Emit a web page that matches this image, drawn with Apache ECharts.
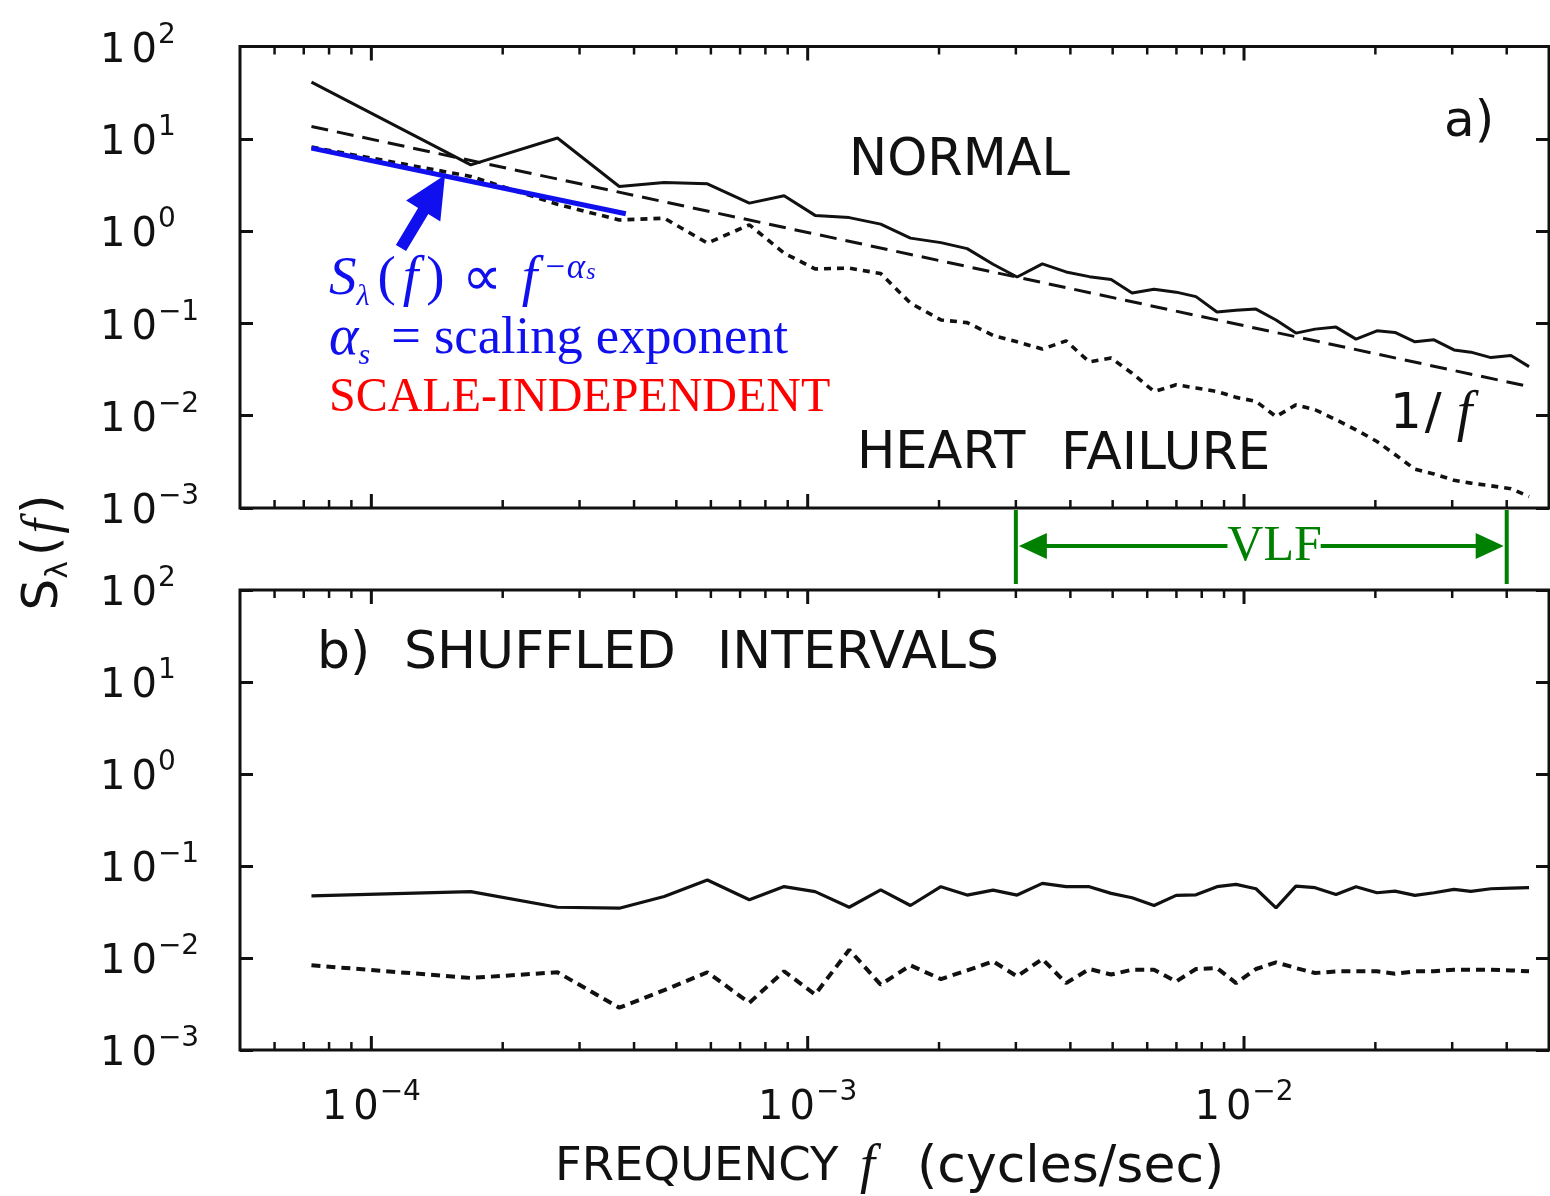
<!DOCTYPE html>
<html><head><meta charset="utf-8">
<script src="https://cdn.jsdelivr.net/npm/echarts@6/dist/echarts.min.js"></script>
<style>html,body{margin:0;padding:0;background:#fff}#c{width:1550px;height:1196px}</style>
</head><body><div id="c"></div>
<script>
// ---------------- data ----------------
const freq = [7.29e-5, 1.69e-4, 2.67e-4, 3.70e-4, 4.69e-4, 5.89e-4, 7.35e-4, 8.83e-4, 1.04e-3, 1.245e-3,
  1.47e-3, 1.72e-3, 2.02e-3, 2.32e-3, 2.66e-3, 3.02e-3, 3.45e-3, 3.91e-3, 4.42e-3, 4.96e-3,
  5.54e-3, 6.22e-3, 6.99e-3, 7.76e-3, 8.67e-3, 9.59e-3, 1.065e-2, 1.184e-2, 1.315e-2, 1.455e-2,
  1.625e-2, 1.806e-2, 2.017e-2, 2.218e-2, 2.465e-2, 2.725e-2, 3.028e-2, 3.311e-2, 3.68e-2, 4.09e-2, 4.50e-2];
const normalA = [41.1, 5.22, 10.2, 3.04, 3.37, 3.25, 2.01, 2.41, 1.48, 1.40,
  1.19, 0.839, 0.750, 0.646, 0.437, 0.318, 0.441, 0.361, 0.321, 0.299,
  0.213, 0.235, 0.218, 0.195, 0.133, 0.139, 0.143, 0.109, 0.0785, 0.0867,
  0.0912, 0.0676, 0.0832, 0.0798, 0.0632, 0.0664, 0.0516, 0.0488, 0.0426, 0.0448, 0.0340];
const heartFailureA = [8.13, 3.91, 1.95, 1.32, 1.38, 0.741, 1.17, 0.577, 0.389, 0.397,
  0.347, 0.166, 0.109, 0.102, 0.0741, 0.0631, 0.0527, 0.0646, 0.0382, 0.0421,
  0.0288, 0.0183, 0.0216, 0.0200, 0.0183, 0.0158, 0.0143, 0.00979, 0.0131, 0.0116,
  0.00904, 0.00703, 0.00526, 0.00380, 0.00263, 0.00234, 0.00200, 0.00186, 0.00174, 0.00162, 0.00133];
const normalB = [0.0473, 0.0527, 0.0356, 0.0348, 0.0466, 0.0705, 0.0429, 0.0597, 0.0527, 0.0356,
  0.0550, 0.0372, 0.0596, 0.0483, 0.0547, 0.0483, 0.0647, 0.0596, 0.0596, 0.0504,
  0.0452, 0.0372, 0.0479, 0.0486, 0.0596, 0.0631, 0.0566, 0.0351, 0.0605, 0.0581,
  0.0491, 0.0596, 0.0512, 0.0533, 0.0479, 0.0512, 0.0557, 0.0530, 0.0566, 0.0575, 0.0581];
const heartFailureB = [0.00834, 0.00607, 0.00700, 0.00288, 0.00447, 0.00700, 0.00326, 0.00718, 0.00401, 0.0123,
  0.00514, 0.00832, 0.00590, 0.00733, 0.00920, 0.00631, 0.00975, 0.00533, 0.00759, 0.00661,
  0.00746, 0.00746, 0.00556, 0.00759, 0.00778, 0.00533, 0.00759, 0.00897, 0.00778, 0.00686,
  0.00716, 0.00716, 0.00716, 0.00675, 0.00716, 0.00716, 0.00746, 0.00746, 0.00746, 0.00733, 0.00716];
const oneOverFFreq = [7.29e-5, 4.50e-2];
const oneOverFVal = [13.6, 0.0207];
const fitFreq = [7.29e-5, 3.83e-4];
const fitVal = [7.93, 1.54];
const xMajorTicks = [1e-4, 1e-3, 1e-2];
const xMinorTicks = [6e-5, 7e-5, 8e-5, 9e-5, 2e-4, 3e-4, 4e-4, 5e-4, 6e-4, 7e-4, 8e-4, 9e-4,
  2e-3, 3e-3, 4e-3, 5e-3, 6e-3, 7e-3, 8e-3, 9e-3, 2e-2, 3e-2, 4e-2];
const vlfBand = [3.0e-3, 4.0e-2];
const xRange = [5e-5, 5e-2];
const yRange = [1e-3, 1e2];

// ---------------- helpers ----------------
const SANS = 'DejaVu Sans';
const SERIF = 'Liberation Serif';
const INK = '#111';
const BLUE = '#1010ee';
const zip = (xs, ys) => xs.map((x, i) => [x, ys[i]]);

function powLabel(v) {
  const e = Math.log10(v), r = Math.round(e);
  if (Math.abs(e - r) > 1e-6) return '';
  return '{o|1}{m|0}{e|' + (r < 0 ? '\u2212' + (-r) : String(r)) + '}';
}
const labelRich = {
  o: {fontFamily: SANS, fontSize: 40, color: INK, lineHeight: 50, padding: [0, 6, 0, 0], verticalAlign: 'bottom'},
  m: {fontFamily: SANS, fontSize: 40, color: INK, lineHeight: 50, padding: [0, 1, 0, 0], verticalAlign: 'bottom'},
  e: {fontFamily: SANS, fontSize: 28, color: INK, lineHeight: 28, verticalAlign: 'top'}
};

const tickData = xMajorTicks.map(v => [v, 1, 1]).concat(xMinorTicks.map(v => [v, 1, 0]));
function tickRender(params, api) {
  const v = api.value(0), major = api.value(2);
  const top = api.coord([v, yRange[1]]);
  const bot = api.coord([v, yRange[0]]);
  const len = major ? 14 : 8, w = major ? 3 : 2.5;
  return {type: 'group', children: [
    {type: 'line', shape: {x1: top[0], y1: top[1], x2: top[0], y2: top[1] + len}, style: {stroke: INK, lineWidth: w}},
    {type: 'line', shape: {x1: bot[0], y1: bot[1], x2: bot[0], y2: bot[1] - len}, style: {stroke: INK, lineWidth: w}}
  ]};
}

const GREEN = '#008000';
function vlfRender(params, api) {
  const p1 = api.coord([api.value(0), yRange[0]]);
  const p2 = api.coord([api.value(2), yRange[0]]);
  const x1 = p1[0], x2 = p2[0], yb = p1[1];
  const ya = yb + 38;
  const span = x2 - x1;
  const tl = x1 + 0.431 * span, tr = x1 + 0.621 * span, tc = x1 + 0.527 * span;
  const st = {stroke: GREEN, lineWidth: 4};
  return {type: 'group', children: [
    {type: 'line', shape: {x1: x1, y1: yb + 2, x2: x1, y2: yb + 76}, style: st},
    {type: 'line', shape: {x1: x2, y1: yb + 2, x2: x2, y2: yb + 76}, style: st},
    {type: 'line', shape: {x1: x1 + 20, y1: ya, x2: tl, y2: ya}, style: st},
    {type: 'line', shape: {x1: tr, y1: ya, x2: x2 - 20, y2: ya}, style: st},
    {type: 'polygon', shape: {points: [[x1 + 3, ya], [x1 + 31, ya - 13], [x1 + 31, ya + 13]]}, style: {fill: GREEN}},
    {type: 'polygon', shape: {points: [[x2 - 3, ya], [x2 - 31, ya - 13], [x2 - 31, ya + 13]]}, style: {fill: GREEN}},
    {type: 'text', x: tc, y: ya + 1, style: {text: 'VLF', fontFamily: SERIF, fontSize: 50, fill: GREEN, align: 'center', verticalAlign: 'middle'}}
  ]};
}

function xAxisCfg(gi, showLabel) {
  return {type: 'log', gridIndex: gi, min: xRange[0], max: xRange[1], logBase: 10,
    axisLine: {show: false}, axisTick: {show: false}, splitLine: {show: false},
    axisLabel: {show: showLabel, margin: 29, formatter: powLabel, rich: labelRich, showMinLabel: false, showMaxLabel: false}};
}
function yAxisCfg(gi, pos, showLabel) {
  return {type: 'log', gridIndex: gi, position: pos, min: yRange[0], max: yRange[1], logBase: 10,
    axisLine: {show: false}, splitLine: {show: false},
    axisTick: {show: true, inside: true, length: 13, lineStyle: {color: INK, width: 3}},
    axisLabel: {show: showLabel, align: 'left', margin: 140, formatter: powLabel, rich: labelRich}};
}

const textStyle = (txt, size, extra) => Object.assign({text: txt, fontFamily: SANS, fontSize: size, fill: INK, align: 'left', verticalAlign: 'middle'}, extra || {});

const option = {
  backgroundColor: '#fff',
  animation: false,
  grid: [
    {left: 240, top: 46.5, width: 1309, height: 461.5, show: true, borderColor: INK, borderWidth: 3, backgroundColor: 'transparent'},
    {left: 240, top: 590, width: 1309, height: 460, show: true, borderColor: INK, borderWidth: 3, backgroundColor: 'transparent'}
  ],
  xAxis: [xAxisCfg(0, false), xAxisCfg(1, true)],
  yAxis: [yAxisCfg(0, 'left', true), yAxisCfg(0, 'right', false), yAxisCfg(1, 'left', true), yAxisCfg(1, 'right', false)],
  series: [
    {type: 'custom', name: 'ticksA', xAxisIndex: 0, yAxisIndex: 0, data: tickData, renderItem: tickRender, silent: true, clip: false, z: 5},
    {type: 'custom', name: 'ticksB', xAxisIndex: 1, yAxisIndex: 2, data: tickData, renderItem: tickRender, silent: true, clip: false, z: 5},
    {type: 'line', name: 'NORMAL', xAxisIndex: 0, yAxisIndex: 0, data: zip(freq, normalA), showSymbol: false, symbol: 'none',
      lineStyle: {color: INK, width: 3}, z: 3},
    {type: 'line', name: 'HEART FAILURE', xAxisIndex: 0, yAxisIndex: 0, data: zip(freq, heartFailureA), showSymbol: false, symbol: 'none',
      lineStyle: {color: INK, width: 3.6, type: [7, 6]}, z: 3},
    {type: 'line', name: '1/f', xAxisIndex: 0, yAxisIndex: 0, data: zip(oneOverFFreq, oneOverFVal), showSymbol: false, symbol: 'none',
      lineStyle: {color: INK, width: 3, type: [17, 9]}, z: 3},
    {type: 'line', name: 'fit', xAxisIndex: 0, yAxisIndex: 0, data: zip(fitFreq, fitVal), showSymbol: false, symbol: 'none',
      lineStyle: {color: BLUE, width: 5}, z: 6},
    {type: 'line', name: 'NORMAL shuffled', xAxisIndex: 1, yAxisIndex: 2, data: zip(freq, normalB), showSymbol: false, symbol: 'none',
      lineStyle: {color: INK, width: 3.2}, z: 3},
    {type: 'line', name: 'HEART FAILURE shuffled', xAxisIndex: 1, yAxisIndex: 2, data: zip(freq, heartFailureB), showSymbol: false, symbol: 'none',
      lineStyle: {color: INK, width: 4, type: [9, 6]}, z: 3},
    {type: 'custom', name: 'VLF', xAxisIndex: 0, yAxisIndex: 0, data: [[vlfBand[0], 1, vlfBand[1]]], renderItem: vlfRender, silent: true, clip: false, z: 7}
  ],
  graphic: [
    {type: 'text', x: 849, y: 162, style: textStyle('NORMAL', 51)},
    {type: 'text', x: 857, y: 455, style: textStyle('HEART', 51)},
    {type: 'text', x: 1061, y: 455, style: textStyle('FAILURE', 52)},
    {type: 'text', x: 1444, y: 123, style: textStyle('a)', 50)},
    {type: 'text', x: 1390, y: 415, style: {text: '{n|1}{n|/}{f|f}', align: 'left', verticalAlign: 'middle',
      rich: {n: {fontFamily: SANS, fontSize: 50, fill: INK, padding: [0, 3, 0, 0]}, f: {fontFamily: SERIF, fontStyle: 'italic', fontSize: 56, fill: INK, padding: [0, 0, 0, 12]}}}},
    {type: 'text', x: 317, y: 654, style: textStyle('b)', 52)},
    {type: 'text', x: 404, y: 654, style: textStyle('SHUFFLED', 52)},
    {type: 'text', x: 717, y: 654, style: textStyle('INTERVALS', 52)},
    {type: 'text', x: 555, y: 1168, style: textStyle('FREQUENCY', 46.5)},
    {type: 'text', x: 860, y: 1168, style: {text: 'f', fontFamily: SERIF, fontStyle: 'italic', fontSize: 54, fill: INK, align: 'left', verticalAlign: 'middle'}},
    {type: 'text', x: 917, y: 1168, style: textStyle('(cycles/sec)', 52)},
    {type: 'text', x: 44, y: 551, rotation: Math.PI / 2, style: {text: '{s|S}{l|\u03bb}{p|(}{f|f}{p|)}', align: 'center', verticalAlign: 'middle',
      rich: {
        s: {fontFamily: SANS, fontSize: 50, fill: INK, lineHeight: 60, verticalAlign: 'middle'},
        l: {fontFamily: SANS, fontSize: 30, fill: INK, lineHeight: 30, verticalAlign: 'bottom'},
        p: {fontFamily: SANS, fontSize: 50, fill: INK, lineHeight: 60, verticalAlign: 'middle', padding: [0, 3, 0, 5]},
        f: {fontFamily: SERIF, fontStyle: 'italic', fontSize: 52, fill: INK, lineHeight: 60, verticalAlign: 'middle'}
      }}},
    // blue arrow pointing at the fitted line
    {type: 'polygon', shape: {points: [[406.1, 251.1], [428.3, 214.1], [440.3, 221.4], [445, 175], [406.1, 200.6], [418.1, 207.9], [395.9, 244.9]]},
      style: {fill: BLUE}, z: 10},
    {type: 'text', x: 329, y: 280, style: {text: '{S|S}{l|\u03bb}{p|(}{f|f}{p|)}{q|\u221d}{f|f}{x|\u2212\u03b1}{s|s}', align: 'left', verticalAlign: 'middle',
      rich: {
        S: {fontFamily: SERIF, fontStyle: 'italic', fontSize: 55, fill: BLUE, lineHeight: 64, verticalAlign: 'middle'},
        l: {fontFamily: SERIF, fontStyle: 'italic', fontSize: 30, fill: BLUE, lineHeight: 30, verticalAlign: 'bottom', padding: [0, 4, 0, 0]},
        p: {fontFamily: SERIF, fontSize: 55, fill: BLUE, lineHeight: 64, verticalAlign: 'middle', padding: [0, 3, 0, 4]},
        f: {fontFamily: SERIF, fontStyle: 'italic', fontSize: 56, fill: BLUE, lineHeight: 64, verticalAlign: 'middle', padding: [0, 4, 0, 4]},
        q: {fontFamily: SERIF, fontSize: 56, fill: BLUE, lineHeight: 64, verticalAlign: 'middle', padding: [0, 16, 0, 14]},
        x: {fontFamily: SERIF, fontStyle: 'italic', fontSize: 35, fill: BLUE, lineHeight: 35, verticalAlign: 'top', padding: [3, 0, 0, 2]},
        s: {fontFamily: SERIF, fontStyle: 'italic', fontSize: 24, fill: BLUE, lineHeight: 24, verticalAlign: 'top', padding: [13, 0, 0, 1]}
      }}},
    {type: 'text', x: 329, y: 339, style: {text: '{a|\u03b1}{s|s}{t| = scaling exponent}', align: 'left', verticalAlign: 'middle',
      rich: {
        a: {fontFamily: SERIF, fontStyle: 'italic', fontSize: 56, fill: BLUE, lineHeight: 64, verticalAlign: 'middle'},
        s: {fontFamily: SERIF, fontStyle: 'italic', fontSize: 30, fill: BLUE, lineHeight: 30, verticalAlign: 'bottom', padding: [0, 8, 0, 0]},
        t: {fontFamily: SERIF, fontSize: 52.5, fill: BLUE, lineHeight: 64, verticalAlign: 'middle'}
      }}},
    {type: 'text', x: 329, y: 398, style: {text: 'SCALE-INDEPENDENT', fontFamily: SERIF, fontSize: 48, fill: '#ff0000', align: 'left', verticalAlign: 'middle'}}
  ]
};

const chart = echarts.init(document.getElementById('c'), null, {renderer: 'canvas'});
chart.setOption(option);
</script>
</body></html>
